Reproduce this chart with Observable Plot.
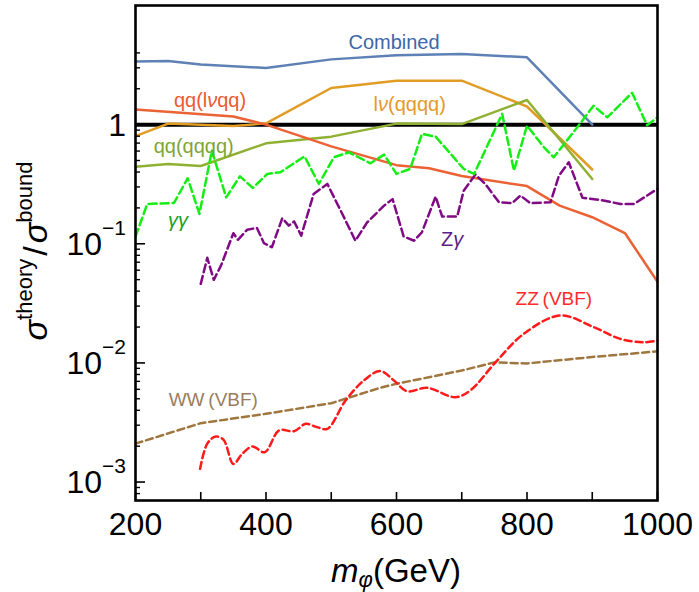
<!DOCTYPE html>
<html><head><meta charset="utf-8">
<script src="https://cdn.jsdelivr.net/npm/d3@7"></script>
<script src="https://cdn.jsdelivr.net/npm/@observablehq/plot@0.6"></script>
<style>body{margin:0;background:#fff;}</style>
</head><body><div id="chart"></div>
<script>
// ---- data (mass in GeV, ratio sigma_theory / sigma_bound) ----
const combinedMass = [200,250,300,400,500,600,700,800,900];
const combinedRatio = [3.38,3.42,3.19,2.99,3.53,3.83,3.92,3.67,1.0];

const lvqqMass = [200,350,400,500,600,650,700,800,850,900,950,1000];
const lvqqRatio = [1.34,1.17,1.0,0.657,0.457,0.431,0.370,0.305,0.209,0.167,0.123,0.048];

const lvqqqqMass = [200,250,350,400,500,600,700,800,900];
const lvqqqqRatio = [0.80,1.02,0.975,1.025,2.03,2.34,2.34,1.42,0.42];

const qqqqqqMass = [200,250,300,400,500,600,700,800,900];
const qqqqqqRatio = [0.444,0.468,0.450,0.697,0.793,1.02,1.01,1.61,0.35];

const aaMass = [200,218,259,280,298,317,339,360,380,402,422,459,481,504,527,560,581,600,621,639,660,703,719,762,780,800,826,841,877,902,923,961,984,1000];
const aaRatio = [0.115,0.216,0.220,0.355,0.178,0.605,0.245,0.368,0.294,0.386,0.398,0.542,0.318,0.532,0.586,0.474,0.560,0.386,0.425,0.836,0.793,0.425,0.386,1.23,0.411,0.98,0.645,0.532,0.949,1.44,1.15,1.85,0.99,1.15];

const zaMass = [300,310,320,331,350,357,371,386,397,409,425,435,443,454,473,494,517,537,555,581,594,611,627,639,660,670,693,703,721,736,757,777,790,805,836,849,864,885,913,943,964,1000];
const zaRatio = [0.0461,0.0762,0.0498,0.0656,0.1225,0.108,0.131,0.136,0.101,0.0935,0.164,0.142,0.154,0.117,0.262,0.318,0.178,0.106,0.151,0.209,0.237,0.115,0.106,0.125,0.249,0.169,0.169,0.279,0.381,0.318,0.223,0.219,0.254,0.219,0.223,0.373,0.483,0.243,0.233,0.216,0.216,0.289];

const zzMass = [299,310,323,335,350,363,379,398,420,443,461,478,494,522,550,575,596,616,647,690,713,752,795,851,902,943,979,1000];
const zzRatio = [0.00129,0.00210,0.00241,0.00226,0.00142,0.00171,0.00199,0.00178,0.00271,0.00267,0.00308,0.00289,0.00280,0.00484,0.00712,0.00855,0.00712,0.00579,0.00618,0.00515,0.00587,0.01014,0.01754,0.0250,0.0200,0.0159,0.0149,0.0154];

const wwMass = [200,300,400,500,575,600,700,750,800,900,1000];
const wwRatio = [0.00210,0.00312,0.00374,0.00459,0.00618,0.00668,0.00863,0.0101,0.0099,0.0112,0.0125];

// ---- ticks ----
const xTickValues = [200,300,400,500,600,700,800,900,1000];
const xLabelValues = [200,400,600,800,1000];
const yMajorValues = [0.001,0.01,0.1,1];
const yMinorValues = [0.0008,0.0009,0.002,0.003,0.004,0.005,0.006,0.007,0.008,0.009,0.02,0.03,0.04,0.05,0.06,0.07,0.08,0.09,0.2,0.3,0.4,0.5,0.6,0.7,0.8,0.9,2,3,4];
const yLabelValues = [1,0.1,0.01,0.001];
const yLabelBase = ["1","10","10","10"];
const yLabelExp = ["","\u22121","\u22122","\u22123"];

// ---- series labels ----
const labelParts = [
  [["Combined",false]],
  [["qq(l",false],["\u03bd",true],["qq)",false]],
  [["l",false],["\u03bd",true],["(qqqq)",false]],
  [["qq(qqqq)",false]],
  [["\u03b3\u03b3",true]],
  [["Z",false],["\u03b3",true]],
  [["ZZ\u2009(VBF)",false]],
  [["WW\u2009(VBF)",false]]
];
const labelMass = [597,315,621,290,266,686,842,320];
const labelRatio = [4.3,1.39,1.285,0.571,0.137,0.095,0.0305,0.00432];
const labelColor = ["#3d67a6","#ec5a30","#e39a2a","#7ea536","#22a022","#5c1f86","#ff2a2a","#9a7c5e"];

const FONT = "'Liberation Sans', Arial, Helvetica, sans-serif";
const pts = (m, r) => m.map((d, i) => ({m: d, r: r[i]}));

const chart = Plot.plot({
  width: 699, height: 592,
  marginLeft: 135, marginRight: 42, marginTop: 5, marginBottom: 92,
  x: {domain: [200, 1000]},
  y: {type: "log", domain: [7e-4, 10]},
  style: {fontFamily: FONT, background: "white", color: "black"},
  marks: [
    Plot.ruleY([1], {stroke: "black", strokeWidth: 4}),
    Plot.line(pts(combinedMass, combinedRatio), {x: "m", y: "r", stroke: "#5e81b5", strokeWidth: 2.5}),
    Plot.line(pts(lvqqqqMass, lvqqqqRatio), {x: "m", y: "r", stroke: "#e19c24", strokeWidth: 2.5}),
    Plot.line(pts(qqqqqqMass, qqqqqqRatio), {x: "m", y: "r", stroke: "#8fb032", strokeWidth: 2.5}),
    Plot.line(pts(lvqqMass, lvqqRatio), {x: "m", y: "r", stroke: "#eb6235", strokeWidth: 2.5}),
    Plot.line(pts(wwMass, wwRatio), {x: "m", y: "r", stroke: "#a0763f", strokeWidth: 2.5, strokeDasharray: "7,4"}),
    Plot.line(pts(zzMass, zzRatio), {x: "m", y: "r", stroke: "#ff1a1a", strokeWidth: 2.5, strokeDasharray: "7,4", curve: "catmull-rom"}),
    Plot.line(pts(zaMass, zaRatio), {x: "m", y: "r", stroke: "#800a84", strokeWidth: 2.5, strokeDasharray: "8,4"}),
    Plot.line(pts(aaMass, aaRatio), {x: "m", y: "r", stroke: "#14ee14", strokeWidth: 2.5, strokeDasharray: "8,4"}),
    Plot.axisX(xTickValues, {anchor: "bottom", tickSize: 8, dy: -8, strokeWidth: 1.6, tickFormat: () => "", label: null}),
    Plot.axisX(xLabelValues, {anchor: "bottom", tickSize: 0, tickPadding: 12, fontSize: 32, tickFormat: d => String(d), label: null}),
    Plot.axisY(yMajorValues, {anchor: "left", tickSize: 10, dx: 10, strokeWidth: 1.6, tickFormat: () => "", label: null}),
    Plot.axisY(yMinorValues, {anchor: "left", tickSize: 5, dx: 5, strokeWidth: 1.4, tickFormat: () => "", label: null}),
    Plot.frame({stroke: "black", strokeWidth: 2.6})
  ]
});
document.getElementById("chart").appendChild(chart);

const sx = chart.scale("x"), sy = chart.scale("y");
const svg = d3.select(chart);
const g = svg.append("g").attr("font-family", FONT);
const leftEdge = sx.range[0];

// y tick labels with superscripts
yLabelValues.forEach((v, i) => {
  const t = g.append("text")
    .attr("x", leftEdge - 9)
    .attr("y", sy.apply(v) + 11.5)
    .attr("text-anchor", "end")
    .attr("font-size", 32)
    .attr("fill", "black");
  t.append("tspan").text(yLabelBase[i]);
  if (yLabelExp[i]) t.append("tspan").attr("font-size", 21).attr("dy", -20).text(yLabelExp[i]);
});

// series labels
labelParts.forEach((parts, i) => {
  const t = g.append("text")
    .attr("x", sx.apply(labelMass[i]))
    .attr("y", sy.apply(labelRatio[i]))
    .attr("text-anchor", "middle")
    .attr("font-size", i >= 6 ? 19 : 20)
    .attr("fill", labelColor[i]);
  parts.forEach(([s, it]) => {
    const ts = t.append("tspan").text(s);
    if (it) ts.attr("font-style", "italic");
  });
});

// x-axis title
const xt = g.append("text")
  .attr("x", (sx.range[0] + sx.range[1]) / 2)
  .attr("y", 582)
  .attr("text-anchor", "middle")
  .attr("font-size", 33)
  .attr("fill", "black");
xt.append("tspan").attr("font-style", "italic").text("m");
xt.append("tspan").attr("font-style", "italic").attr("font-size", 22).attr("dy", 5).text("\u03c6");
xt.append("tspan").attr("dy", -5).text("(GeV)");

// y-axis title (rotated)
const yt = g.append("text")
  .attr("transform", "translate(47,251) rotate(-90)")
  .attr("text-anchor", "middle")
  .attr("font-size", 34)
  .attr("fill", "black");
yt.append("tspan").attr("font-style", "italic").text("\u03c3");
yt.append("tspan").attr("font-size", 22).attr("dy", -15).text("theory");
yt.append("tspan").attr("dy", 15).attr("dx", 3).text("/");
yt.append("tspan").attr("font-style", "italic").attr("dx", 3).text("\u03c3");
yt.append("tspan").attr("font-size", 22).attr("dy", -15).text("bound");
</script>
</body></html>
